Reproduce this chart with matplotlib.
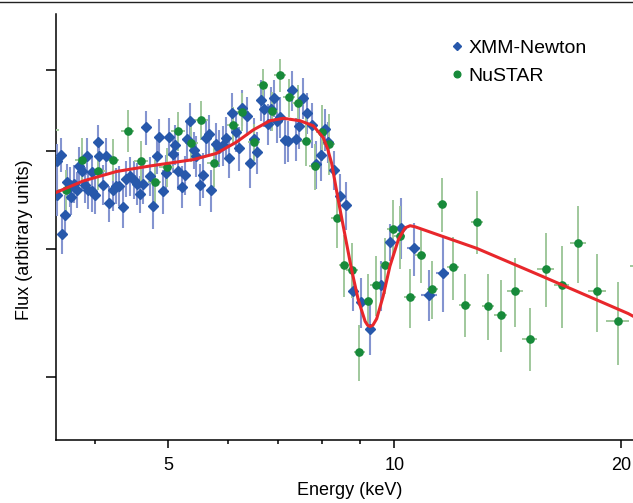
import numpy as np
import matplotlib
matplotlib.use("Agg")
import matplotlib.pyplot as plt
from matplotlib.lines import Line2D
from matplotlib.ticker import FixedLocator, NullFormatter, NullLocator

plt.rcParams['font.family'] = ['Liberation Sans', 'DejaVu Sans']

# ---------------- data ----------------
xmm_energy = [3.56, 3.56, 3.60, 3.62, 3.645, 3.67, 3.70, 3.72, 3.75, 3.78,
              3.81, 3.84, 3.88, 3.90, 3.92, 3.96, 3.96, 4.00, 4.03, 4.05,
              4.10, 4.14, 4.18, 4.22, 4.26, 4.31, 4.36, 4.40, 4.45, 4.50,
              4.55, 4.59, 4.63, 4.68, 4.73, 4.78, 4.83, 4.87, 4.93, 4.97,
              5.02, 5.07, 5.11, 5.16, 5.22, 5.26, 5.30, 5.35, 5.41, 5.45,
              5.51, 5.57, 5.61, 5.66, 5.71, 5.79, 5.85, 5.91, 5.97, 6.03,
              6.09, 6.15, 6.21, 6.28, 6.36, 6.43, 6.50, 6.56, 6.65, 6.71,
              6.78, 6.85, 6.92, 6.98, 7.05, 7.15, 7.22, 7.31, 7.40, 7.47,
              7.56, 7.66, 7.76, 7.86, 7.98, 8.08, 8.17, 8.32, 8.46, 8.62,
              8.80, 9.03, 9.29, 9.59, 9.86, 10.20, 10.60, 11.12, 11.59]
xmm_flux = [4.88, 4.52, 4.95, 4.14, 4.32, 4.66, 4.61, 4.50, 4.64, 4.58,
            4.83, 4.78, 4.63, 4.94, 4.58, 4.76, 4.56, 4.52, 5.10, 4.94,
            4.63, 4.94, 4.44, 4.58, 4.62, 4.62, 4.40, 4.69, 4.72, 4.68,
            4.64, 4.53, 4.64, 5.27, 4.72, 4.41, 4.94, 5.16, 4.56, 4.75,
            5.16, 4.96, 5.07, 4.78, 4.61, 4.73, 5.13, 5.35, 5.01, 4.94,
            4.63, 4.73, 5.14, 5.19, 4.57, 5.08, 5.03, 5.06, 5.15, 4.92,
            5.45, 5.22, 5.03, 5.51, 5.41, 4.86, 5.13, 4.98, 5.61, 5.50,
            5.31, 5.50, 5.63, 5.35, 5.40, 5.12, 5.11, 5.73, 5.13, 5.29,
            5.63, 5.44, 5.30, 4.85, 4.95, 5.25, 5.10, 4.79, 4.51, 4.42,
            3.64, 3.55, 3.34, 3.69, 4.07, 4.20, 4.01, 3.61, 3.79]
xmm_yerr = [0.20, 0.21, 0.19, 0.18, 0.20, 0.19, 0.21, 0.18, 0.20, 0.19,
            0.21, 0.20, 0.19, 0.21, 0.20, 0.18, 0.21, 0.19, 0.20, 0.19,
            0.21, 0.20, 0.18, 0.22, 0.19, 0.21, 0.20, 0.19, 0.21, 0.20,
            0.22, 0.19, 0.21, 0.20, 0.21, 0.22, 0.20, 0.21, 0.23, 0.20,
            0.22, 0.21, 0.23, 0.20, 0.22, 0.21, 0.23, 0.22, 0.21, 0.23,
            0.22, 0.24, 0.21, 0.23, 0.22, 0.24, 0.21, 0.23, 0.25, 0.22,
            0.24, 0.23, 0.25, 0.22, 0.24, 0.26, 0.25, 0.24, 0.26, 0.23,
            0.25, 0.27, 0.24, 0.26, 0.25, 0.27, 0.24, 0.26, 0.25, 0.27,
            0.26, 0.25, 0.27, 0.26, 0.28, 0.25, 0.24, 0.21, 0.23, 0.24,
            0.16, 0.20, 0.19, 0.21, 0.17, 0.29, 0.24, 0.21, 0.32]
xmm_xerr = [0.04, 0.04, 0.04, 0.04, 0.04, 0.04, 0.04, 0.04, 0.04, 0.04,
            0.04, 0.04, 0.04, 0.04, 0.04, 0.04, 0.04, 0.04, 0.04, 0.04,
            0.04, 0.04, 0.04, 0.04, 0.04, 0.04, 0.04, 0.04, 0.04, 0.04,
            0.04, 0.04, 0.04, 0.05, 0.05, 0.05, 0.05, 0.05, 0.05, 0.05,
            0.05, 0.05, 0.05, 0.05, 0.05, 0.05, 0.05, 0.05, 0.05, 0.05,
            0.05, 0.05, 0.05, 0.05, 0.05, 0.05, 0.05, 0.05, 0.05, 0.05,
            0.06, 0.06, 0.06, 0.06, 0.06, 0.06, 0.06, 0.06, 0.06, 0.06,
            0.06, 0.06, 0.06, 0.06, 0.06, 0.06, 0.06, 0.06, 0.06, 0.06,
            0.07, 0.07, 0.07, 0.07, 0.07, 0.07, 0.07, 0.08, 0.08, 0.08,
            0.10, 0.10, 0.12, 0.12, 0.15, 0.18, 0.20, 0.27, 0.22]

nu_energy = [3.46, 3.655, 3.845, 4.04, 4.22, 4.42, 4.60, 4.80, 4.98, 5.16,
             5.37, 5.53, 5.75, 6.10, 6.28, 6.51, 6.68, 6.88, 7.05, 7.24,
             7.44, 7.63, 7.84, 8.02, 8.19, 8.38, 8.57, 8.78, 8.98, 9.22,
             9.45, 9.72, 9.94, 10.17, 10.49, 10.84, 11.23, 11.57, 11.97, 12.41,
             12.86, 13.32, 13.85, 14.46, 15.14, 15.88, 16.68, 17.55, 18.59, 19.80,
             21.20]
nu_flux = [5.24, 4.57, 4.90, 4.78, 4.90, 5.23, 4.89, 4.66, 4.82, 5.23,
           5.09, 5.36, 4.86, 5.30, 5.46, 5.10, 5.80, 5.47, 5.93, 5.64,
           5.57, 5.11, 4.83, 5.22, 5.08, 4.29, 3.86, 3.82, 3.17, 3.56,
           3.69, 3.86, 4.19, 4.12, 3.59, 3.95, 3.66, 4.43, 3.84, 3.53,
           4.26, 3.52, 3.45, 3.64, 3.27, 3.83, 3.69, 4.06, 3.64, 3.40,
           3.85]
nu_yerr = [0.24, 0.22, 0.24, 0.20, 0.23, 0.25, 0.22, 0.24, 0.21, 0.23,
           0.22, 0.24, 0.25, 0.22, 0.23, 0.21, 0.21, 0.24, 0.22, 0.24,
           0.23, 0.28, 0.25, 0.33, 0.35, 0.28, 0.27, 0.24, 0.20, 0.22,
           0.25, 0.24, 0.28, 0.29, 0.24, 0.24, 0.24, 0.27, 0.27, 0.25,
           0.30, 0.26, 0.28, 0.28, 0.23, 0.32, 0.34, 0.35, 0.32, 0.32,
           0.33]
nu_xerr = [0.12, 0.08, 0.08, 0.09, 0.09, 0.09, 0.10, 0.10, 0.11, 0.11,
           0.11, 0.12, 0.12, 0.11, 0.12, 0.12, 0.12, 0.13, 0.13, 0.13,
           0.14, 0.14, 0.14, 0.15, 0.15, 0.14, 0.14, 0.15, 0.15, 0.15,
           0.16, 0.16, 0.17, 0.17, 0.18, 0.18, 0.19, 0.19, 0.22, 0.23,
           0.24, 0.25, 0.28, 0.34, 0.35, 0.39, 0.39, 0.43, 0.51, 0.67,
           0.66]

model_energy = [3.55, 3.86, 4.27, 4.73, 5.40, 5.80, 6.17, 6.49, 6.83, 7.12,
                7.49, 7.80, 8.04, 8.15, 8.25, 8.42, 8.60, 8.77, 8.95, 9.14,
                9.21, 9.28, 9.36, 9.47, 9.66, 9.86, 10.12, 10.33, 10.49, 10.65,
                12.86, 15.77, 20.45, 20.75]
model_flux = [4.55, 4.67, 4.77, 4.83, 4.90, 4.97, 5.10, 5.24, 5.35, 5.38,
              5.35, 5.29, 5.15, 5.02, 4.86, 4.47, 4.12, 3.82, 3.57, 3.40,
              3.37, 3.36, 3.37, 3.42, 3.60, 3.85, 4.09, 4.20, 4.22, 4.21,
              4.01, 3.76, 3.46, 3.44]

x_major = [5, 10, 20]
x_major_labels = ['5', '10', '20']
x_minor = [4, 6, 7, 8, 9]
y_ticks = [3, 4, 5, 6]

# ---------------- style ----------------
BLUE = '#2758ab'
BLUE_ERR = '#8494d0'
GREEN = '#178a3a'
GREEN_ERR = '#a0c89c'
RED = '#e8272b'

fig = plt.figure(figsize=(6.33, 5.03), dpi=100)
ax = fig.add_axes([56/633, 1-440/503, 577/633, 426/503])

ax.errorbar(xmm_energy, xmm_flux, yerr=xmm_yerr, xerr=xmm_xerr, fmt='D',
            ms=5.0, color=BLUE, mec=BLUE, ecolor=BLUE_ERR, elinewidth=1.5,
            capsize=0, zorder=3)
ax.errorbar(nu_energy, nu_flux, yerr=nu_yerr, xerr=nu_xerr, fmt='o',
            ms=5.2, color=GREEN, mec=GREEN, ecolor=GREEN_ERR, elinewidth=1.4,
            capsize=0, zorder=3)
ax.plot(model_energy, model_flux, color=RED, lw=2.2, zorder=5,
        solid_joinstyle='round')

ax.set_xscale('log')
ax.set_yscale('log')
ax.set_xlim(3.549, 20.75)
ax.set_ylim(2.60, 6.81)

ax.xaxis.set_major_locator(FixedLocator(x_major))
ax.set_xticklabels(x_major_labels)
ax.xaxis.set_minor_locator(FixedLocator(x_minor))
ax.xaxis.set_minor_formatter(NullFormatter())
ax.yaxis.set_major_locator(FixedLocator(y_ticks))
ax.yaxis.set_major_formatter(NullFormatter())
ax.yaxis.set_minor_locator(NullLocator())
ax.yaxis.set_minor_formatter(NullFormatter())

ax.tick_params(axis='x', which='major', direction='out', length=6, width=1.1,
               labelsize=13, pad=6)
ax.tick_params(axis='x', which='minor', direction='out', length=3.2, width=1.1)
ax.tick_params(axis='y', which='major', direction='out', length=7, width=1.1)

for s in ['top', 'right']:
    ax.spines[s].set_visible(False)
for s in ['left', 'bottom']:
    ax.spines[s].set_linewidth(1.1)

ax.set_xlabel('Energy (keV)', fontsize=13)
ax.set_ylabel('Flux (arbitrary units)', fontsize=13)
ax.xaxis.set_label_coords(0.509, -0.098)
ax.yaxis.set_label_coords(-0.040, 0.469)

handles = [Line2D([], [], ls='none', marker='D', ms=4.4, color=BLUE),
           Line2D([], [], ls='none', marker='o', ms=4.8, color=GREEN)]
ax.legend(handles, ['XMM-Newton', 'NuSTAR'], loc='upper left',
          bbox_to_anchor=(0.684, 0.941), frameon=False, fontsize=14,
          handlelength=0.6, handletextpad=0.33, labelspacing=0.55,
          borderpad=0, borderaxespad=0)

fig.add_artist(Line2D([0, 1], [1-2.2/503, 1-2.2/503], transform=fig.transFigure,
                      color='#222222', lw=1.0))

fig.savefig('out.png', dpi=100)
